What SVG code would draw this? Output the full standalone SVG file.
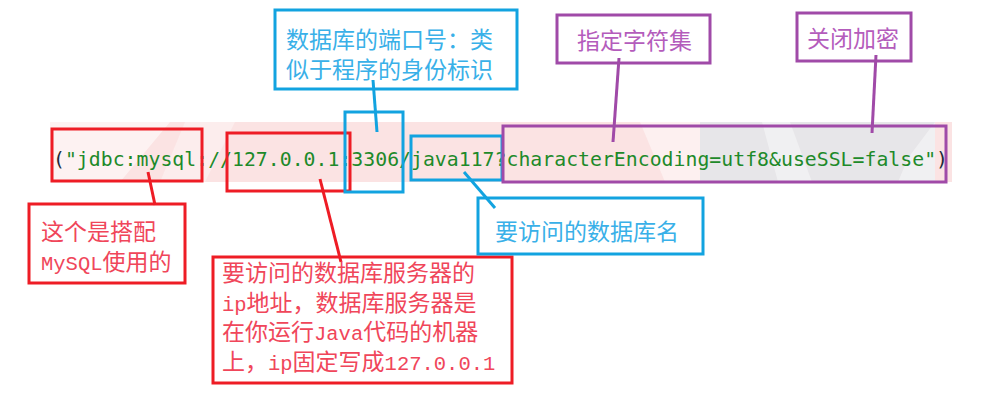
<svg xmlns="http://www.w3.org/2000/svg" width="984" height="404" viewBox="0 0 984 404">
<style>
.box{fill:none;stroke-width:3}
.r{stroke:#ee1c25}
.b{stroke:#12a3e0}
.p{stroke:#a04aa8}
.cn{stroke-width:3;fill:none}
.t{font-family:"Noto Sans CJK SC","Liberation Serif",sans-serif;font-size:23px}
.tr{fill:#f0465a}
.tb{fill:#39b0e8}
.tp{fill:#b45cbc}
.a{font-family:"Liberation Mono",monospace;font-size:20.5px}
.code{font-family:"DejaVu Sans Mono","Liberation Mono",monospace;font-size:19.8px}
</style>
<rect width="984" height="404" fill="#ffffff"/>
<g id="code-line">
<rect x="50" y="122" width="902" height="60" fill="#fbe3e3"/>
<polygon points="50,122 170,122 120,182 50,182" fill="#ffffff" opacity="0.55"/>
<polygon points="185,122 235,122 205,182 160,182" fill="#ffffff" opacity="0.35"/>
<polygon points="640,122 700,122 700,182 665,182" fill="#ffffff" opacity="0.45"/>
<polygon points="700,122 935,122 935,182 700,182" fill="#e7e6e9"/>
<polygon points="762,122 790,122 812,182 778,182" fill="#ffffff" opacity="0.4"/>
<polygon points="908,158 935,122 935,182 898,182" fill="#ffffff" opacity="0.4"/>
<text class="code" x="53" y="166" textLength="895" lengthAdjust="spacing"><tspan fill="#222a3a">(</tspan><tspan fill="#1e8a2a">"jdbc:mysql://127.0.0.1:3306/java117?characterEncoding=utf8&amp;useSSL=false"</tspan><tspan fill="#222a3a">)</tspan></text>
</g>
<g id="connectors">
<line class="cn r" x1="148" y1="172" x2="155" y2="205"/>
<line class="cn r" x1="320" y1="179" x2="341" y2="262"/>
<line class="cn b" x1="373" y1="80" x2="377" y2="132"/>
<line class="cn b" x1="464" y1="172" x2="495" y2="208"/>
<line class="cn p" x1="619" y1="58" x2="613" y2="142"/>
<line class="cn p" x1="876" y1="55" x2="872" y2="133"/>
</g>
<g id="hl-jdbc"><rect class="box r" x="52" y="129" width="150" height="52"/></g>
<g id="hl-ip"><rect class="box r" x="227" y="133" width="123" height="58"/></g>
<g id="hl-port"><rect class="box b" x="345" y="112" width="58" height="80"/></g>
<g id="hl-db"><rect class="box b" x="411" y="136" width="91" height="44"/></g>
<g id="hl-params"><rect class="box p" x="503" y="126" width="443" height="56"/></g>
<g id="note-port">
<rect class="box b" x="275" y="10" width="242" height="79" fill="#ffffff"/>
<text class="t tb" x="286" y="48">数据库的端口号：类</text>
<text class="t tb" x="286" y="78">似于程序的身份标识</text>
</g>
<g id="note-charset">
<rect class="box p" x="557" y="15" width="153" height="48" fill="#ffffff"/>
<text class="t tp" x="577" y="49">指定字符集</text>
</g>
<g id="note-ssl">
<rect class="box p" x="797" y="13" width="114" height="48" fill="#ffffff"/>
<text class="t tp" x="807" y="47">关闭加密</text>
</g>
<g id="note-mysql">
<rect class="box r" x="29" y="204" width="156" height="79" fill="#ffffff"/>
<text class="t tr" x="41" y="240">这个是搭配</text>
<text class="t tr" x="41" y="270"><tspan class="a">MySQL</tspan>使用的</text>
</g>
<g id="note-ip">
<rect class="box r" x="213" y="257" width="299" height="126" fill="#ffffff"/>
<text class="t tr" x="222" y="281">要访问的数据库服务器的</text>
<text class="t tr" x="222" y="311"><tspan class="a">ip</tspan>地址，数据库服务器是</text>
<text class="t tr" x="222" y="340">在你运行<tspan class="a">Java</tspan>代码的机器</text>
<text class="t tr" x="222" y="370">上，<tspan class="a">ip</tspan>固定写成<tspan class="a">127.0.0.1</tspan></text>
</g>
<g id="note-dbname">
<rect class="box b" x="478" y="198" width="225" height="56" fill="#ffffff"/>
<text class="t tb" x="495" y="240">要访问的数据库名</text>
</g>
</svg>
